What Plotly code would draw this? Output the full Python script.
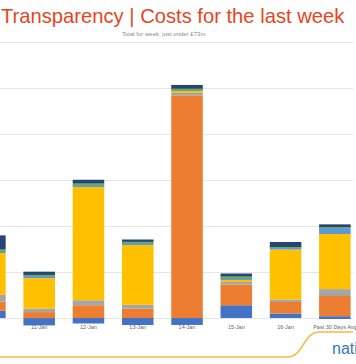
import plotly.graph_objects as go

# ---- data (£m) ----
categories = ["10-Jan", "11-Jan", "12-Jan", "13-Jan", "14-Jan", "15-Jan", "16-Jan", "Past 30 Days Avg"]
seg_blue = [0.8, -0.8, -0.6, -0.75, -0.75, 1.4, 0.5, 0.2]
seg_orange = [1.0, 0.65, 1.4, 1.0, 24.2, 2.25, 1.25, 2.2]
seg_gray = [0.75, 0.37, 0.55, 0.45, 0.33, 0.3, 0.27, 0.75]
seg_yellow = [4.6, 3.33, 12.4, 6.5, 0.2, 0.2, 5.45, 6.0]
seg_lightblue = [0.2, 0.25, 0.2, 0.25, 0.15, 0.3, 0.22, 0.73]
seg_green = [0.15, 0.1, 0.12, 0.1, 0.1, 0.1, 0.05, 0.12]
seg_navy = [1.5, 0.35, 0.4, 0.25, 0.4, 0.3, 0.55, 0.2]

series = [
    ("A", seg_blue, "#4472C4"),
    ("B", seg_orange, "#ED7D31"),
    ("C", seg_gray, "#A5A5A5"),
    ("D", seg_yellow, "#FFC000"),
    ("E", seg_lightblue, "#5B9BD5"),
    ("F", seg_green, "#70AD47"),
    ("G", seg_navy, "#264478"),
]

title_text = "Transparency | Costs for the last week"
subtitle_text = "Total for week: just under £73m"
logo_text = "nationalgrid"

W, H = 356, 364
MT, MB = 41, 14
PLOT_BOTTOM = H - MB
FONT = "Liberation Sans"


def px_x(x):
    return x / W


def px_y(y):
    return (PLOT_BOTTOM - y) / (H - MT - MB)


fig = go.Figure()
for name, vals, col in series:
    fig.add_trace(go.Bar(x=categories, y=vals, name=name, marker_color=col,
                         marker_line_width=0, hoverinfo="skip"))

px_per_unit = 46 / 5
ymax = 30 + (42.5 - MT) / px_per_unit
ymin = -(PLOT_BOTTOM - 318) / px_per_unit

fig.update_layout(
    width=W, height=H,
    margin=dict(l=0, r=0, t=MT, b=MB),
    barmode="relative",
    bargap=0.36,
    showlegend=False,
    plot_bgcolor="white",
    paper_bgcolor="white",
    font=dict(family=FONT),
    xaxis=dict(
        range=[0.205, 7.368],
        anchor="free",
        position=(0 - ymin) / (ymax - ymin),
        showline=False, ticks="", showgrid=False,
        ticklabelstandoff=4,
        tickfont=dict(size=5.5, color="#666666", family=FONT),
    ),
    yaxis=dict(
        range=[ymin, ymax],
        dtick=5, tick0=0,
        showgrid=True, gridcolor="#E6E6E6", gridwidth=1,
        zeroline=False, showticklabels=False, ticks="", showline=False,
    ),
    annotations=[
        dict(text=title_text, xref="paper", yref="paper", x=px_x(-1), y=px_y(16),
             xanchor="left", yanchor="middle", showarrow=False,
             font=dict(size=20.2, color="#E5461E", family=FONT)),
        dict(text=subtitle_text, xref="paper", yref="paper", x=px_x(165), y=px_y(34),
             xanchor="center", yanchor="middle", showarrow=False,
             font=dict(size=6, color="#8A8A8A", family=FONT)),
        dict(text=logo_text, xref="paper", yref="paper", x=px_x(333), y=px_y(348),
             xanchor="left", yanchor="middle", showarrow=False,
             font=dict(size=16, color="#2F78C2", family=FONT)),
    ],
    shapes=[
        dict(type="path", xref="paper", yref="paper",
             path=(f"M {px_x(0)},{px_y(357)} L {px_x(290)},{px_y(357)} "
                   f"C {px_x(306)},{px_y(357)} {px_x(306)},{px_y(332)} {px_x(322)},{px_y(332)} "
                   f"L {px_x(356)},{px_y(332)}"),
             line=dict(color="#F7B945", width=1.5)),
    ],
)

fig.write_html(
    "out.html",
    config={"displayModeBar": False},
    post_script="document.body.style.margin='0';document.body.style.overflow='hidden';",
)
